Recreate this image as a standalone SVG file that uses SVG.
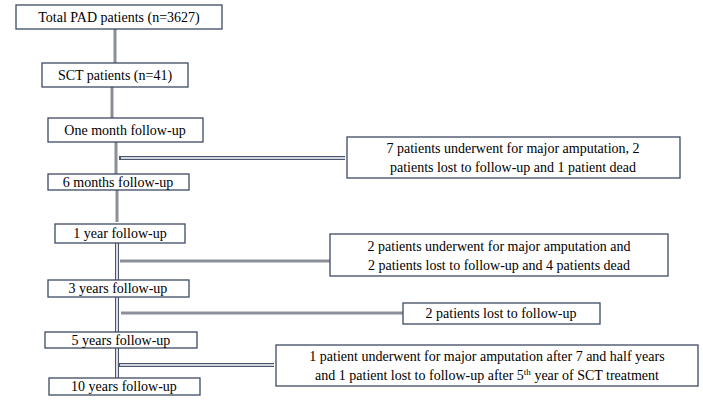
<svg xmlns="http://www.w3.org/2000/svg" width="703" height="410" viewBox="0 0 703 410">
<style>
.b{fill:#fff;stroke:#3d4a63;stroke-width:1.3}
.t{font-family:"Liberation Serif",serif;font-size:14px;fill:#000;text-anchor:middle}
.g{stroke:#8a8f99;stroke-width:3;fill:none}
.d1{stroke:#4a5570;stroke-width:4;fill:none}
.d2{stroke:#fff;stroke-width:1.6;fill:none}
</style>
<rect width="703" height="410" fill="#fff"/>
<g id="connectors">
<path class="g" d="M115 29V63M112 87V118M116 142V174M117 190V222"/>
<path class="d1" d="M117 243V280M117 297V332M117 348V378M119 158H345M118 365H274"/>
<path class="d2" d="M117 243V280M117 297V332M117 348V378M121 158H345M120 365H274"/>
<path class="g" d="M120 261H330M121 313H403"/>
</g>
<g id="n1"><rect class="b" x="16" y="5" width="206" height="24"/><text class="t" x="119" y="22">Total PAD patients  (n=3627)</text></g>
<g id="n2"><rect class="b" x="42" y="63" width="146" height="24"/><text class="t" x="115" y="80">SCT patients  (n=41)</text></g>
<g id="n3"><rect class="b" x="48" y="118" width="155" height="24"/><text class="t" x="125" y="135">One month  follow-up</text></g>
<g id="n4"><rect class="b" x="48" y="174" width="141" height="16"/><text class="t" x="118" y="187">6 months  follow-up</text></g>
<g id="n5"><rect class="b" x="55" y="224" width="130" height="19"/><text class="t" x="120" y="238">1 year follow-up</text></g>
<g id="n6"><rect class="b" x="48" y="280" width="141" height="17"/><text class="t" x="118" y="293">3 years follow-up</text></g>
<g id="n7"><rect class="b" x="45" y="332" width="152" height="16"/><text class="t" x="121" y="345">5 years follow-up</text></g>
<g id="n8"><rect class="b" x="49" y="378" width="151" height="17"/><text class="t" x="124" y="391">10 years follow-up</text></g>
<g id="s1"><rect class="b" x="347" y="137" width="333" height="41"/><text class="t" x="513" y="153">7 patients underwent for major amputation,  2</text><text class="t" x="513" y="172">patients lost to follow-up  and 1 patient  dead</text></g>
<g id="s2"><rect class="b" x="330" y="234" width="338" height="42"/><text class="t" x="499" y="251">2 patients underwent for major amputation  and</text><text class="t" x="499" y="270">2 patients lost to follow-up  and 4 patients dead</text></g>
<g id="s3"><rect class="b" x="403" y="303" width="197" height="21"/><text class="t" x="501" y="318">2 patients  lost to follow-up</text></g>
<g id="s4"><rect class="b" x="276" y="345" width="422" height="41"/><text class="t" x="487" y="361">1 patient  underwent for major amputation  after 7 and half years</text><text class="t" x="487" y="380">and 1 patient  lost to follow-up  after 5<tspan font-size="9" dy="-5">th</tspan><tspan dy="5"> year of SCT treatment</tspan></text></g>
</svg>
